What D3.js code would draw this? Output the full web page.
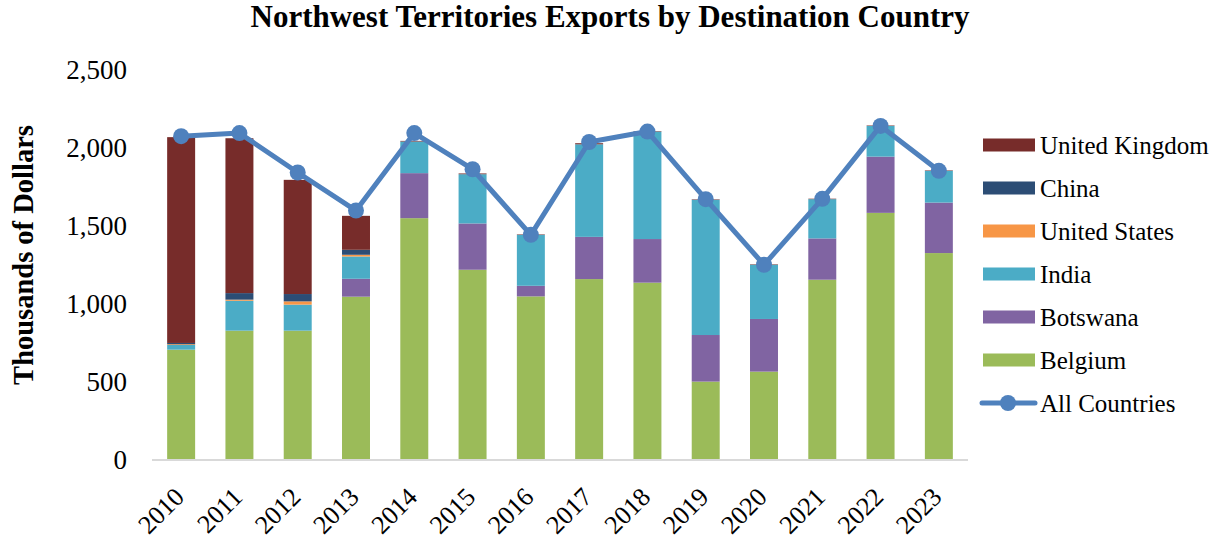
<!DOCTYPE html>
<html><head><meta charset="utf-8">
<script src="https://cdn.jsdelivr.net/npm/d3@7/dist/d3.min.js"></script>
<style>body{margin:0;background:#fff}svg{display:block}text{font-family:"Liberation Serif","DejaVu Serif",serif;fill:#000}</style>
</head><body>
<svg id="c" width="1217" height="541"></svg>
<script>
const years = ["2010","2011","2012","2013","2014","2015","2016","2017","2018","2019","2020","2021","2022","2023"];
const belgium  = [705, 827, 827, 1045, 1549, 1218, 1047, 1158, 1135, 500, 564, 1154, 1583, 1325];
const botswana = [0, 0, 0, 115, 289, 297, 68, 271, 280, 299, 338, 265, 361, 324];
const india    = [30, 192, 167, 143, 203, 316, 327, 594, 690, 868, 348, 252, 197, 204];
const unitedStates = [5, 7, 21, 11, 0, 0, 0, 0, 0, 0, 0, 0, 0, 0];
const china    = [8, 42, 47, 32, 0, 0, 0, 0, 0, 0, 0, 0, 0, 0];
const unitedKingdom = [1321, 994, 733, 218, 4, 5, 3, 7, 3, 3, 3, 3, 3, 3];
const allCountries = [2075, 2095, 1842, 1598, 2095, 1863, 1442, 2038, 2105, 1671, 1250, 1673, 2141, 1853];
const yTicks = [0, 500, 1000, 1500, 2000, 2500];

const series = [
  {key:"Belgium", values:belgium, color:"#9bbb59"},
  {key:"Botswana", values:botswana, color:"#8064a2"},
  {key:"India", values:india, color:"#4bacc6"},
  {key:"United States", values:unitedStates, color:"#f79646"},
  {key:"China", values:china, color:"#2c4d75"},
  {key:"United Kingdom", values:unitedKingdom, color:"#772c2a"}
];

const svg = d3.select("#c");
const x = d3.scaleBand().domain(years).range([152, 968]).paddingInner(0.52).paddingOuter(0.26);
const y = d3.scaleLinear().domain([0, 2500]).range([459.5, 70]);

const table = years.map((yr, i) => {
  const o = {year: yr};
  series.forEach(s => o[s.key] = s.values[i]);
  return o;
});
const stack = d3.stack().keys(series.map(s => s.key))(table);

// bars
svg.append("g").selectAll("g").data(stack).join("g")
  .attr("fill", (d, i) => series[i].color)
  .selectAll("rect").data(d => d).join("rect")
  .attr("x", d => x(d.data.year))
  .attr("width", x.bandwidth())
  .attr("y", d => y(d[1]))
  .attr("height", d => Math.max(0, y(d[0]) - y(d[1])));

// baseline
svg.append("line").attr("x1", 152).attr("x2", 968).attr("y1", y(0)+0.5).attr("y2", y(0)+0.5)
  .attr("stroke", "#d9d9d9").attr("stroke-width", 2);

// y axis labels
const yAxis = d3.axisLeft(y).tickValues(yTicks).tickFormat(d3.format(",")).tickSize(0).tickPadding(0);
const ga = svg.append("g").attr("transform", "translate(127,0)").call(yAxis);
ga.select(".domain").remove();
ga.selectAll("text").style("font-size", "27px").style("font-family", '"Liberation Serif", serif').attr("fill", "#000");

// x labels
const xAxis = d3.axisBottom(x).tickSize(0).tickPadding(0);
const gx = svg.append("g").call(xAxis);
gx.select(".domain").remove();
gx.selectAll(".tick").attr("transform", d => `translate(${x(d) + x.bandwidth()/2 - 2},492)`);
gx.selectAll("text").attr("y", 0).attr("dy", "0.35em").attr("text-anchor", "end")
  .attr("transform", "rotate(-45)").style("font-size", "26px").style("font-family", '"Liberation Serif", serif').attr("fill", "#000");

// line
const line = d3.line().x((d, i) => x(years[i]) + x.bandwidth()/2).y(d => y(d));
svg.append("path").datum(allCountries).attr("d", line).attr("fill", "none")
  .attr("stroke", "#4f81bd").attr("stroke-width", 5).attr("stroke-linejoin", "round");
svg.append("g").selectAll("circle").data(allCountries).join("circle")
  .attr("cx", (d, i) => x(years[i]) + x.bandwidth()/2).attr("cy", d => y(d)).attr("r", 8)
  .attr("fill", "#4f81bd");

// title
svg.append("text").attr("x", 610).attr("y", 27).attr("text-anchor", "middle")
  .style("font-size", "31px").style("font-weight", "bold").text("Northwest Territories Exports by Destination Country");

// y title
svg.append("text").attr("transform", "translate(33,255) rotate(-90)").attr("text-anchor", "middle")
  .style("font-size", "28.5px").style("font-weight", "bold").text("Thousands of Dollars");

// legend
const legendItems = series.slice().reverse();
const lg = svg.append("g");
legendItems.forEach((s, i) => {
  const cy = 145 + i * 43;
  lg.append("rect").attr("x", 983).attr("y", cy - 6.5).attr("width", 52).attr("height", 13).attr("fill", s.color);
  lg.append("text").attr("x", 1040).attr("y", cy).attr("dy", "0.35em").style("font-size", "25px").text(s.key);
});
const ly = 145 + 6 * 43;
lg.append("line").attr("x1", 982).attr("x2", 1035).attr("y1", ly).attr("y2", ly).attr("stroke", "#4f81bd").attr("stroke-width", 5).attr("stroke-linecap", "round");
lg.append("circle").attr("cx", 1008).attr("cy", ly).attr("r", 8).attr("fill", "#4f81bd");
lg.append("text").attr("x", 1040).attr("y", ly).attr("dy", "0.35em").style("font-size", "25px").text("All Countries");
</script>
</body></html>
